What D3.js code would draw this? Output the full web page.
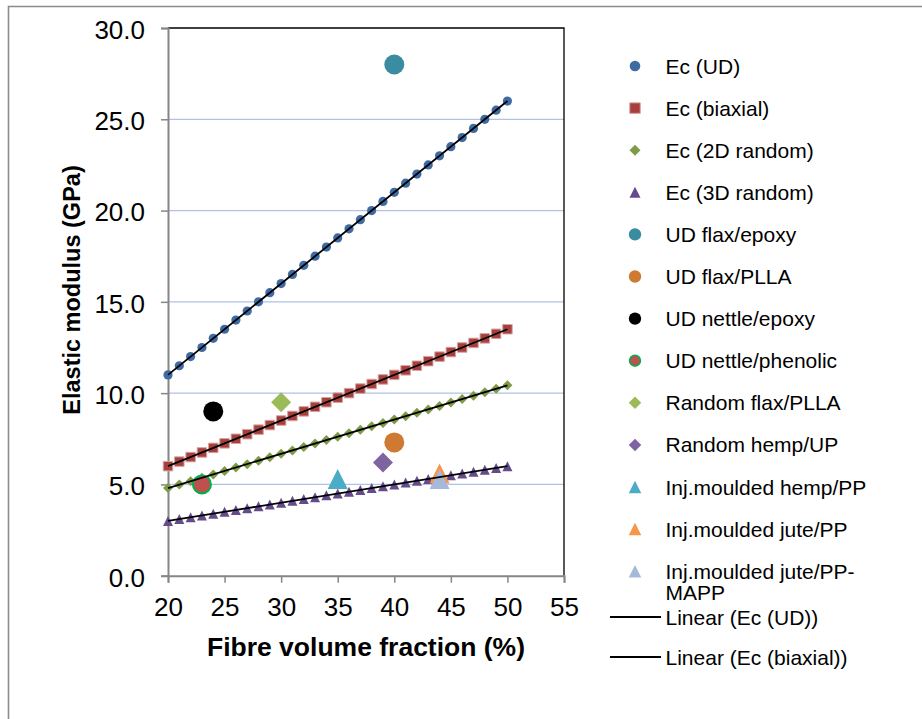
<!DOCTYPE html>
<html>
<head>
<meta charset="utf-8">
<script src="https://cdnjs.cloudflare.com/ajax/libs/d3/7.8.5/d3.min.js"></script>
<style>
  html, body { margin: 0; padding: 0; background: #ffffff; }
  svg { display: block; font-family: "Liberation Sans", Arial, sans-serif; }
</style>
</head>
<body>
<svg id="chart" width="922" height="719"></svg>
<script>
// ---------------- DATA ----------------
const fibreFraction = [20,21,22,23,24,25,26,27,28,29,30,31,32,33,34,35,36,37,38,39,40,41,42,43,44,45,46,47,48,49,50];
const ecUD = [11,11.5,12,12.5,13,13.5,14,14.5,15,15.5,16,16.5,17,17.5,18,18.5,19,19.5,20,20.5,21,21.5,22,22.5,23,23.5,24,24.5,25,25.5,26];
const ecBiaxial = [6,6.25,6.5,6.75,7,7.25,7.5,7.75,8,8.25,8.5,8.75,9,9.25,9.5,9.75,10,10.25,10.5,10.75,11,11.25,11.5,11.75,12,12.25,12.5,12.75,13,13.25,13.5];
const ec2DRandom = [4.8,4.99,5.18,5.36,5.55,5.74,5.93,6.11,6.3,6.49,6.68,6.86,7.05,7.24,7.43,7.61,7.8,7.99,8.18,8.36,8.55,8.74,8.93,9.11,9.3,9.49,9.68,9.86,10.05,10.24,10.43];
const ec3DRandom = [3.0,3.1,3.2,3.3,3.4,3.5,3.6,3.7,3.8,3.9,4.0,4.1,4.2,4.3,4.4,4.5,4.6,4.7,4.8,4.9,5.0,5.1,5.2,5.3,5.4,5.5,5.6,5.7,5.8,5.9,6.0];
const modelNames = ["Ec (UD)", "Ec (biaxial)", "Ec (2D random)", "Ec (3D random)"];

const pointNames = ["UD flax/epoxy", "UD flax/PLLA", "UD nettle/epoxy", "UD nettle/phenolic",
  "Random flax/PLLA", "Random hemp/UP", "Inj.moulded hemp/PP", "Inj.moulded jute/PP", "Inj.moulded jute/PP-MAPP"];
const pointX = [40, 40, 24, 23, 30, 39, 35, 44, 44];
const pointY = [28, 7.3, 9.0, 5.0, 9.5, 6.2, 5.3, 5.6, 5.3];

const trendNames = ["Linear (Ec (UD))", "Linear (Ec (biaxial))"];
const xTicks = [20, 25, 30, 35, 40, 45, 50, 55];
const yTicks = [0, 5, 10, 15, 20, 25, 30];
const xTitle = "Fibre volume fraction (%)";
const yTitle = "Elastic modulus (GPa)";

// ---------------- STYLES ----------------
const tri = {
  draw(ctx, size) {
    const w = Math.sqrt(size), h = w;
    ctx.moveTo(0, -h / 2); ctx.lineTo(w / 2, h / 2); ctx.lineTo(-w / 2, h / 2); ctx.closePath();
  }
};
const dia = {
  draw(ctx, size) {
    const r = Math.sqrt(size) / 2;
    ctx.moveTo(0, -r); ctx.lineTo(r, 0); ctx.lineTo(0, r); ctx.lineTo(-r, 0); ctx.closePath();
  }
};
const modelStyles = [
  { type: d3.symbolCircle, size: Math.PI * 4.6 * 4.6, lsize: Math.PI * 5.3 * 5.3, fill: "#3F6BA3", stroke: "none" },
  { type: d3.symbolSquare, size: 9.5 * 9.5, lsize: 10.5 * 10.5, fill: "#A6403D", stroke: "#D8A3A1" },
  { type: dia, size: 10 * 10, lsize: 11 * 11, fill: "#7E9B46", stroke: "none" },
  { type: tri, size: 10 * 10, lsize: 11 * 11, fill: "#654B8C", stroke: "none" }
];
const pointStyles = [
  { type: d3.symbolCircle, r: 10, lr: 6.2, fill: "#3A8CA0", stroke: "none" },
  { type: d3.symbolCircle, r: 10, lr: 6.2, fill: "#CF7A33", stroke: "none" },
  { type: d3.symbolCircle, r: 10, lr: 6.2, fill: "#000000", stroke: "none" },
  { type: d3.symbolCircle, r: 9, lr: 5.4, fill: "#C0504D", stroke: "#00B050", sw: 2 },
  { type: dia, w: 20, lw: 12.5, fill: "#9BBB59", stroke: "none" },
  { type: dia, w: 20, lw: 12.5, fill: "#8064A2", stroke: "none" },
  { type: tri, w: 20, lw: 12.5, fill: "#4BACC6", stroke: "none" },
  { type: tri, w: 20, lw: 12.5, fill: "#F79646", stroke: "none" },
  { type: tri, w: 20, lw: 12.5, fill: "#A7B9DA", stroke: "none" }
];
function symSize(st, legend) {
  if (st.type === d3.symbolCircle) { const r = legend ? st.lr : st.r; return Math.PI * r * r; }
  const w = legend ? st.lw : st.w; return w * w;
}

// ---------------- LAYOUT ----------------
const svg = d3.select("#chart");
const plot = { left: 168, right: 564, top: 28, bottom: 575.7 };
const x = d3.scaleLinear().domain([20, 55]).range([plot.left, plot.right]);
const y = d3.scaleLinear().domain([0, 30]).range([plot.bottom, plot.top]);

// outer chart border (only top and left visible)
svg.append("path")
  .attr("d", `M8.5,719 L8.5,6.5 L922,6.5`)
  .attr("fill", "none").attr("stroke", "#8C8C8C").attr("stroke-width", 1.6);

// gridlines
svg.append("g").selectAll("line").data(yTicks.filter(t => t > 0 && t < 30)).join("line")
  .attr("x1", plot.left).attr("x2", plot.right)
  .attr("y1", d => y(d)).attr("y2", d => y(d))
  .attr("stroke", "#AFC3E6").attr("stroke-width", 1.3);

// plot area border top/right (black)
svg.append("path")
  .attr("d", `M${plot.left},${y(30)} L${plot.right},${y(30)} L${plot.right},${plot.bottom}`)
  .attr("fill", "none").attr("stroke", "#000").attr("stroke-width", 1.3);

// axes
const yAxis = d3.axisLeft(y).tickValues(yTicks).tickFormat(d3.format(".1f")).tickSize(7).tickPadding(16);
const xAxis = d3.axisBottom(x).tickValues(xTicks).tickFormat(d3.format("d")).tickSize(7).tickPadding(15.5);

const gy = svg.append("g").attr("transform", `translate(${plot.left},0)`).call(yAxis);
const gx = svg.append("g").attr("transform", `translate(0,${plot.bottom})`).call(xAxis);
[gx, gy].forEach(g => {
  g.select(".domain").attr("stroke", "#868686").attr("stroke-width", 2);
  g.selectAll(".tick line").attr("stroke", "#868686").attr("stroke-width", 1.5);
  g.selectAll(".tick text").attr("fill", "#000").style("font-size", "26px")
    .style("font-family", "'Liberation Sans', Arial, sans-serif");
});
gy.selectAll(".tick text").attr("dy", "0.4em");
gx.selectAll(".tick text").attr("dy", "0.68em");

// axis titles
svg.append("text").attr("x", 366).attr("y", 656).attr("text-anchor", "middle")
  .style("font-size", "26.5px").style("font-weight", "bold").text(xTitle);
svg.append("text").attr("transform", `translate(79.5,290) rotate(-90)`).attr("text-anchor", "middle")
  .style("font-size", "23.5px").style("font-weight", "bold").text(yTitle);

// model series markers
const modelSeries = [ecUD, ecBiaxial, ec2DRandom, ec3DRandom];
const gm = svg.append("g");
modelSeries.forEach((vals, i) => {
  const st = modelStyles[i];
  gm.append("g").selectAll("path").data(vals).join("path")
    .attr("transform", (d, j) => `translate(${x(fibreFraction[j])},${y(d)})`)
    .attr("d", d3.symbol().type(st.type).size(st.size))
    .attr("fill", st.fill).attr("stroke", st.stroke).attr("stroke-width", 1);
});

// experimental points
const gp = svg.append("g");
pointNames.forEach((n, i) => {
  const st = pointStyles[i];
  gp.append("path")
    .attr("transform", `translate(${x(pointX[i])},${y(pointY[i])})`)
    .attr("d", d3.symbol().type(st.type).size(symSize(st, false)))
    .attr("fill", st.fill).attr("stroke", st.stroke).attr("stroke-width", st.sw || 0);
});

// linear trendlines (least squares fit)
function fit(xs, ys) {
  const n = xs.length, mx = d3.mean(xs), my = d3.mean(ys);
  let sxy = 0, sxx = 0;
  for (let k = 0; k < n; k++) { sxy += (xs[k] - mx) * (ys[k] - my); sxx += (xs[k] - mx) ** 2; }
  const b = sxy / sxx; return { a: my - b * mx, b };
}
const xExt = d3.extent(fibreFraction);
modelSeries.forEach(vals => {
  const f = fit(fibreFraction, vals);
  svg.append("line")
    .attr("x1", x(xExt[0])).attr("y1", y(f.a + f.b * xExt[0]))
    .attr("x2", x(xExt[1])).attr("y2", y(f.a + f.b * xExt[1]))
    .attr("stroke", "#000").attr("stroke-width", 1.8);
});

// ---------------- LEGEND ----------------
const lg = svg.append("g").style("font-size", "21px");
const legX = 635, legTextX = 665.5, legY0 = 66, legStep = 42.1;
const legendItems = modelNames.map((n, i) => ({ name: n, st: modelStyles[i], model: true }))
  .concat(pointNames.map((n, i) => ({ name: n, st: pointStyles[i], model: false })));
legendItems.forEach((it, i) => {
  const cy = legY0 + i * legStep;
  const size = it.model ? it.st.lsize : symSize(it.st, true);
  lg.append("path").attr("transform", `translate(${legX},${cy})`)
    .attr("d", d3.symbol().type(it.st.type).size(size))
    .attr("fill", it.st.fill).attr("stroke", it.st.stroke)
    .attr("stroke-width", it.model ? 1 : (it.st.sw ? 1.6 : 0));
  const t = lg.append("text").attr("x", legTextX).attr("y", cy + 7.5);
  if (it.name === "Inj.moulded jute/PP-MAPP") {
    t.append("tspan").attr("x", legTextX).text("Inj.moulded jute/PP-");
    t.append("tspan").attr("x", legTextX).attr("dy", 21.5).text("MAPP");
  } else {
    t.text(it.name);
  }
});
const trendLegY = [617, 657];
trendNames.forEach((n, i) => {
  lg.append("line").attr("x1", 610).attr("x2", 661).attr("y1", trendLegY[i]).attr("y2", trendLegY[i])
    .attr("stroke", "#000").attr("stroke-width", 1.8);
  lg.append("text").attr("x", legTextX).attr("y", trendLegY[i] + 7.5).text(n);
});
</script>
</body>
</html>
